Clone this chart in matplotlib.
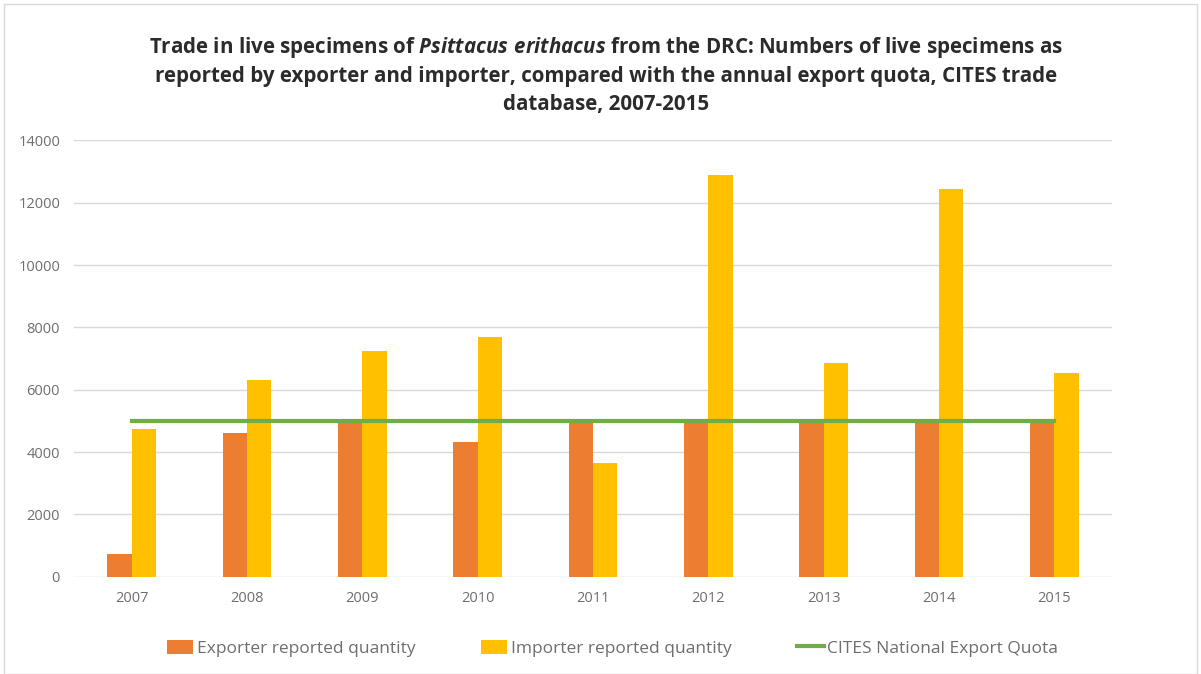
import matplotlib.pyplot as plt
import numpy as np
from matplotlib.patches import Rectangle

# ── data ──
years = ['2007', '2008', '2009', '2010', '2011', '2012', '2013', '2014', '2015']
exporter = [730, 4600, 5000, 4330, 5000, 5000, 5000, 5000, 5000]
importer = [4730, 6310, 7240, 7680, 3640, 12890, 6870, 12430, 6550]
quota = [5000] * 9

C_EXP = '#ED7D31'
C_IMP = '#FFC000'
C_QUOTA = '#70AD47'
C_TXT = '#6E6E6E'

plt.rcParams['font.family'] = ['Open Sans', 'DejaVu Sans']
plt.rcParams['mathtext.fontset'] = 'custom'
plt.rcParams['mathtext.it'] = 'Open Sans:italic:bold'
plt.rcParams['mathtext.rm'] = 'Open Sans:bold'

fig = plt.figure(figsize=(12.01, 6.74), dpi=100)
ax = fig.add_axes([74 / 1201, 97.3 / 674, (1112 - 74) / 1201, (533.6 - 97.3) / 674])

x = np.arange(len(years))
w = 0.212
b1 = ax.bar(x - w / 2, exporter, w, color=C_EXP, label='Exporter reported quantity', zorder=2)
b2 = ax.bar(x + w / 2, importer, w, color=C_IMP, label='Importer reported quantity', zorder=2)
l1, = ax.plot(x, quota, color=C_QUOTA, lw=3, label='CITES National Export Quota', zorder=3)

ax.set_xlim(-0.5, len(years) - 0.5)
ax.set_ylim(0, 14000)
ax.set_yticks(np.arange(0, 14001, 2000))
ax.set_xticks(x)
ax.set_xticklabels(years)
ax.grid(axis='y', color='#D9D9D9', lw=1, zorder=0)
for s in ax.spines.values():
    s.set_visible(False)
ax.tick_params(length=0, colors=C_TXT, labelsize=10.5)
ax.tick_params(axis='y', pad=10)
ax.tick_params(axis='x', pad=10)

fig.text(0.505, 0.948,
         r'Trade in live specimens of $\it{Psittacus\ erithacus}$ from the DRC: Numbers of live specimens as'
         '\nreported by exporter and importer, compared with the annual export quota, CITES trade'
         '\ndatabase, 2007-2015',
         ha='center', va='top', fontsize=14.8, fontweight='bold', color='#2B2B2B',
         linespacing=1.4)

leg = fig.legend([b1, b2, l1],
                 ['Exporter reported quantity', 'Importer reported quantity',
                  'CITES National Export Quota'],
                 loc='center', bbox_to_anchor=(0.51, 0.038), ncol=3, frameon=False,
                 fontsize=12.5, handlelength=1.5, handleheight=0.9, columnspacing=3.8,
                 handletextpad=0.2)
for t in leg.get_texts():
    t.set_color(C_TXT)

fig.patches.append(Rectangle((0.003, 0.0), 0.994, 0.994, transform=fig.transFigure,
                             fill=False, edgecolor='#D9D9D9', lw=1))

fig.savefig('out.png', dpi=100)
